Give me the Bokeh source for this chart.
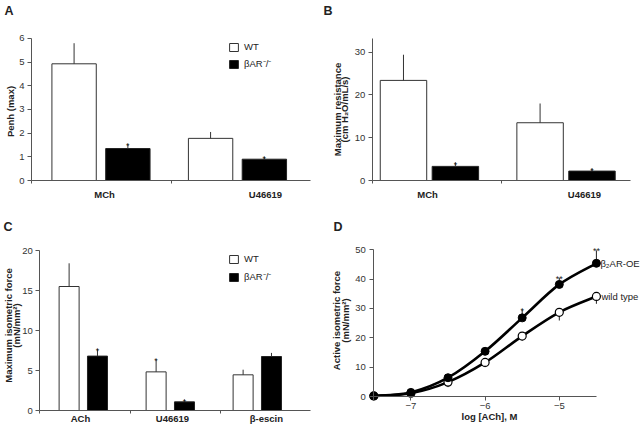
import math
from bokeh.plotting import figure
from bokeh.models import (Range1d, FixedTicker, ColumnDataSource, Label, LabelSet,
                          Legend, LegendItem)
from bokeh.layouts import column, row
from bokeh.core.properties import value
from bokeh.embed import file_html
from bokeh.resources import INLINE

FONT = "Liberation Sans"
AXIS = "#555555"
INK = "#222222"

# ---------------- data ----------------
# Panel A: Penh (max)
a_cats = ["MCh", "U46619"]
a_wt = [4.93, 1.78]
a_wt_err = [5.8, 2.05]
a_ko = [1.35, 0.9]
a_ko_err = [1.55, 1.0]
a_wt_sig = ["", ""]
a_ko_sig = ["*", "*"]
a_yticks = [0, 1, 2, 3, 4, 5, 6]

# Panel B: maximum resistance
b_cats = ["MCh", "U46619"]
b_wt = [23.4, 13.5]
b_wt_err = [29.4, 18.0]
b_ko = [3.3, 2.2]
b_ko_err = [4.2, 2.8]
b_wt_sig = ["", ""]
b_ko_sig = ["*", "*"]
b_yticks = [0, 10, 20, 30]

# Panel C: maximum isometric force
c_cats = ["ACh", "U46619", "β-escin"]
c_wt = [15.5, 4.83, 4.46]
c_wt_err = [18.4, 6.4, 5.1]
c_ko = [6.8, 1.08, 6.75]
c_ko_err = [7.7, 1.35, 7.2]
c_wt_sig = ["", "*", ""]
c_ko_sig = ["*", "*", ""]
c_yticks = [0, 5, 10, 15, 20]

# Panel D: concentration-response
d_logach = [-7.5, -7.0, -6.5, -6.0, -5.5, -5.0, -4.5]
d_oe = [0.2, 1.4, 6.4, 15.4, 26.8, 38.2, 45.4]
d_oe_err = [0.2, 1.4, 6.4, 16.8, 29.6, 40.4, 49.8]
d_oe_sig = ["", "", "", "", "*", "**", "**"]
d_wt = [0.2, 1.1, 4.9, 11.6, 20.6, 28.7, 34.1]
d_wt_err = [0.2, 1.1, 3.2, 10.0, 19.1, 25.9, 31.6]
d_xticks = [-7, -6, -5]
d_yticks = [0, 10, 20, 30, 40, 50]
d_names = ["β₂AR-OE", "wild type"]


class Frame:
    """Maps page pixels to data for a figure whose frame fills the canvas."""
    def __init__(self, left, top, w, h, xa, pxa, sx, ya, pya, sy):
        self.left, self.top, self.w, self.h, self.sx, self.sy = left, top, w, h, sx, sy
        self.x0 = xa - (pxa - left) / sx
        self.x1 = self.x0 + w / sx
        self.y0 = ya - (top + h - pya) / sy
        self.y1 = self.y0 + h / sy

    def X(self, px):
        return self.x0 + (px - self.left) / self.sx

    def Y(self, py):
        return self.y0 + (self.top + self.h - py) / self.sy


def base_fig(f):
    p = figure(width=f.w, height=f.h, output_backend="svg", toolbar_location=None,
               x_range=Range1d(f.x0, f.x1), y_range=Range1d(f.y0, f.y1),
               min_border_left=0, min_border_right=0, min_border_top=0, min_border_bottom=0)
    p.outline_line_color = None
    p.xgrid.visible = False
    p.ygrid.visible = False
    for ax in (p.xaxis[0], p.yaxis[0]):
        ax.axis_line_color = AXIS
        ax.major_tick_line_color = AXIS
        ax.minor_tick_line_color = AXIS
        ax.major_tick_in = 0
        ax.major_tick_out = 4
        ax.minor_tick_in = 0
        ax.minor_tick_out = 0
        ax.major_label_text_font = FONT
        ax.major_label_text_font_size = "9.5px"
        ax.major_label_text_color = "#333333"
        ax.major_label_standoff = 3
    return p


def label(p, f, px, py, text, size="9.5px", bold=True, angle=0.0, align="center"):
    p.add_layout(Label(x=f.X(px), y=f.Y(py), text=text,
                       angle=angle, text_align=align, text_baseline="middle",
                       text_font=FONT, text_font_size=size,
                       text_font_style="bold" if bold else "normal",
                       text_color=INK))


def bar_panel(p, f, cats, wt, wt_err, ko, ko_err, wt_sig, ko_sig, yticks, ytop,
              off, width, nudge, label_py, legend_loc=None, legend_spacing=5):
    n = len(cats)
    centers = [i + 0.5 for i in range(n)]
    xw = [c - off for c in centers]
    xk = [c + off for c in centers]
    rw = p.vbar(x=xw, top=wt, bottom=0, width=width, fill_color="white",
                line_color="#333333", line_width=1)
    rk = p.vbar(x=xk, top=ko, bottom=0, width=width, fill_color="black",
                line_color="#222222", line_width=1)
    p.segment(x0=xw, y0=wt, x1=xw, y1=wt_err, line_color="#333333", line_width=1)
    p.segment(x0=xk, y0=ko, x1=xk, y1=ko_err, line_color="#333333", line_width=1)
    p.text(x=xw + xk, y=wt_err + ko_err, text=wt_sig + ko_sig,
           text_align="center", text_baseline="alphabetic", y_offset=2,
           text_font=value(FONT), text_font_size="9px", text_color=INK)
    # axes drawn at the data origin, inside the full-canvas frame
    ax_left = f.X(f.axis_px)
    ax_right = f.X(f.axis_end_px)
    p.yaxis.fixed_location = ax_left
    p.yaxis.ticker = FixedTicker(ticks=yticks)
    p.yaxis.bounds = (0, ytop)
    p.xaxis.fixed_location = 0
    p.xaxis.bounds = (ax_left, ax_right)
    p.xaxis.ticker = FixedTicker(
        ticks=[], minor_ticks=[ax_left + (ax_right - ax_left) * k / n for k in range(n)])
    p.xaxis.minor_tick_out = 3
    src = ColumnDataSource(dict(x=[c + d for c, d in zip(centers, nudge)],
                                y=[f.Y(label_py)] * n, name=cats))
    p.add_layout(LabelSet(x="x", y="y", text="name", source=src,
                          text_align="center", text_baseline="middle",
                          text_font=value(FONT), text_font_size="9.5px",
                          text_font_style="bold", text_color=INK))
    if legend_loc is not None:
        lg = Legend(items=[LegendItem(label=value("WT"), renderers=[rw]),
                           LegendItem(label=value("βAR⁻/⁻"), renderers=[rk])],
                    location=legend_loc, orientation="vertical")
        lg.glyph_width = 11
        lg.glyph_height = 10
        lg.label_height = 10
        lg.label_standoff = 5
        lg.spacing = legend_spacing
        lg.padding = 0
        lg.margin = 0
        lg.border_line_color = None
        lg.background_fill_alpha = 0
        lg.label_text_font = FONT
        lg.label_text_font_size = "9.5px"
        lg.label_text_color = INK
        p.add_layout(lg)


# ---------------- Panel A ----------------
fa = Frame(0, 0, 320, 208, -0.009, 31, 136.5, 0, 180, 23.67)
fa.axis_px, fa.axis_end_px = 31, 310
pa = base_fig(fa)
bar_panel(pa, fa, a_cats, a_wt, a_wt_err, a_ko, a_ko_err, a_wt_sig, a_ko_sig,
          a_yticks, 6, 0.197, 0.325, [0.026, 0.205], 193.5, legend_loc=(228, 138))
label(pa, fa, 9.5, 111, "Penh (max)", angle=math.pi / 2)
label(pa, fa, 4, 10, "A", size="12.5px", align="left")

# ---------------- Panel B ----------------
fb = Frame(320, 0, 320, 208, 0.081, 371.7, 136.6, 0, 180, 4.278)
fb.axis_px, fb.axis_end_px = 371.7, 630
pb = base_fig(fb)
bar_panel(pb, fb, b_cats, b_wt, b_wt_err, b_ko, b_ko_err, b_wt_sig, b_ko_sig,
          b_yticks, 33.1, 0.19, 0.34, [-0.014, 0.135], 193.5)
label(pb, fb, 336.5, 109, "Maximum resistance", angle=math.pi / 2)
label(pb, fb, 343.8, 109, "(cm H₂O/mL/s)", angle=math.pi / 2)
label(pb, fb, 323, 10, "B", size="12.5px", align="left")

# ---------------- Panel C ----------------
fc = Frame(0, 208, 320, 223, 0, 39.3, 87, 0, 410, 8)
fc.axis_px, fc.axis_end_px = 39.3, 310
pc = base_fig(fc)
bar_panel(pc, fc, c_cats, c_wt, c_wt_err, c_ko, c_ko_err, c_wt_sig, c_ko_sig,
          c_yticks, 20, 0.163, 0.23, [-0.032, 0.025, 0.105], 417.5,
          legend_loc=(228, 148), legend_spacing=6)
label(pc, fc, 7.8, 325, "Maximum isometric force", angle=math.pi / 2)
label(pc, fc, 16, 325, "(mN/mm²)", angle=math.pi / 2)
label(pc, fc, 3, 226, "C", size="12.5px", align="left")

# ---------------- Panel D ----------------
fd = Frame(320, 208, 320, 223, -7.5, 373.3, 74.2, 0, 396, 2.934)
pd = base_fig(fd)
pd.xaxis.fixed_location = 0
pd.yaxis.fixed_location = d_logach[0]
pd.xaxis.ticker = FixedTicker(ticks=d_xticks, minor_ticks=[d_logach[0]])
pd.xaxis.minor_tick_out = 4
pd.xaxis.major_label_standoff = 2
pd.xaxis.bounds = (d_logach[0], d_logach[-1])
pd.yaxis.ticker = FixedTicker(ticks=d_yticks)
pd.yaxis.bounds = (0, 50)
pd.yaxis.major_label_standoff = 4


def smooth(xs, ys):
    n = len(xs)
    out = dict(x0=[], y0=[], x1=[], y1=[], cx0=[], cy0=[], cx1=[], cy1=[])
    for i in range(n - 1):
        im, ip = max(i - 1, 0), min(i + 2, n - 1)
        out["x0"].append(xs[i]); out["y0"].append(ys[i])
        out["x1"].append(xs[i + 1]); out["y1"].append(ys[i + 1])
        out["cx0"].append(xs[i] + (xs[i + 1] - xs[im]) / 6)
        out["cy0"].append(ys[i] + (ys[i + 1] - ys[im]) / 6)
        out["cx1"].append(xs[i + 1] - (xs[ip] - xs[i]) / 6)
        out["cy1"].append(ys[i + 1] - (ys[ip] - ys[i]) / 6)
    return out


pd.segment(x0=d_logach, y0=d_oe, x1=d_logach, y1=d_oe_err, line_color="#222222", line_width=1)
pd.segment(x0=d_logach, y0=d_wt, x1=d_logach, y1=d_wt_err, line_color="#222222", line_width=1)
for ys in (d_wt, d_oe):
    pd.bezier(source=ColumnDataSource(smooth(d_logach, ys)), x0="x0", y0="y0", x1="x1", y1="y1",
              cx0="cx0", cy0="cy0", cx1="cx1", cy1="cy1",
              line_color="black", line_width=2.6, line_cap="round")
pd.scatter(x=d_logach, y=d_wt, marker="circle", size=8, fill_color="white",
           line_color="black", line_width=1.2)
pd.scatter(x=d_logach, y=d_oe, marker="circle", size=8, fill_color="black",
           line_color="black", line_width=1)
pd.text(x=d_logach, y=d_oe_err, text=d_oe_sig, text_align="center",
        text_baseline="alphabetic", y_offset=1, text_font=value(FONT),
        text_font_size="9px", text_color=INK)
pd.text(x=[d_logach[-1], d_logach[-1]], y=[d_oe[-1], d_wt[-1]], text=d_names,
        x_offset=[4, 5], text_align="left", text_baseline="middle",
        text_font=value(FONT), text_font_size="9.5px", text_color=INK)
label(pd, fd, 336.3, 320, "Active isometric force", angle=math.pi / 2)
label(pd, fd, 344.5, 320, "(mN/mm²)", angle=math.pi / 2)
label(pd, fd, 489, 415.7, "log [ACh], M")
label(pd, fd, 333, 226, "D", size="12.5px", align="left")

layout = column(row(pa, pb), row(pc, pd))
open("out.html", "w").write(file_html(layout, INLINE))
